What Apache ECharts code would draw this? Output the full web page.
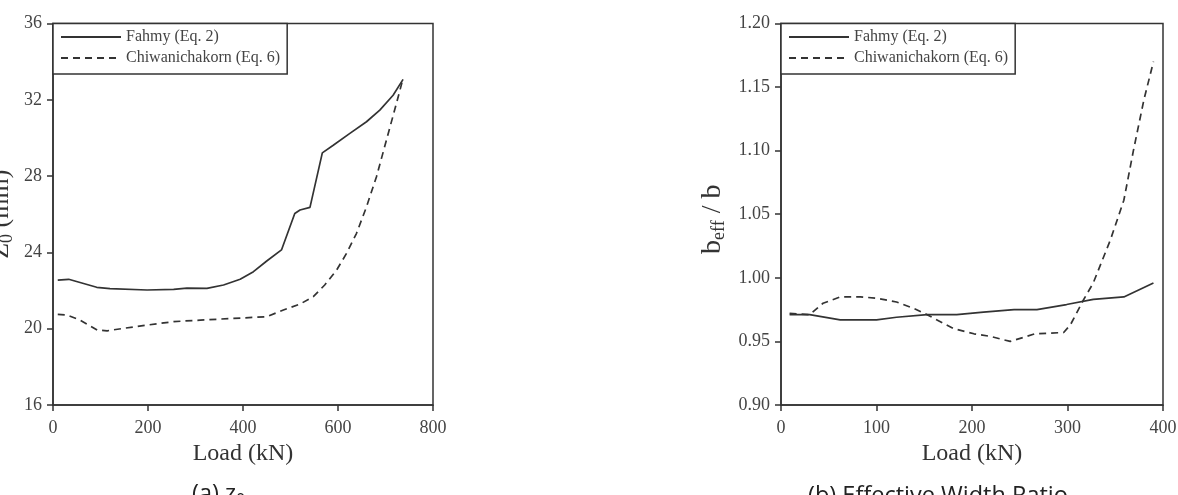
<!DOCTYPE html>
<html>
<head>
<meta charset="utf-8">
<script src="https://cdn.jsdelivr.net/npm/echarts@6/dist/echarts.min.js"></script>
<style>
html,body{margin:0;padding:0;background:#fff;}
#c{width:1178px;height:495px;}
</style>
</head>
<body>
<div id="c"></div>
<script>
// ---- Data: (a) z0 vs Load ----
const fahmyA_load = [10, 33, 92, 120, 198, 254, 282, 324, 359, 394, 422, 450, 481, 509, 520, 541, 567, 590, 625, 660, 688, 716, 737];
const fahmyA_z0   = [22.55, 22.59, 22.17, 22.10, 22.03, 22.06, 22.13, 22.11, 22.29, 22.59, 22.99, 23.55, 24.13, 26.04, 26.22, 26.36, 29.22, 29.62, 30.24, 30.85, 31.46, 32.24, 33.07];
const chiwA_load  = [10, 29, 57, 93, 114, 149, 198, 254, 310, 380, 450, 485, 520, 548, 572, 597, 618, 639, 660, 681, 702, 723, 737];
const chiwA_z0    = [20.75, 20.72, 20.45, 19.93, 19.89, 20.02, 20.19, 20.37, 20.45, 20.54, 20.63, 20.98, 21.29, 21.68, 22.29, 23.07, 23.95, 25.0, 26.39, 27.97, 29.89, 31.81, 33.12];

// ---- Data: (b) beff/b vs Load ----
const fahmyB_load  = [9, 30, 62, 100, 121, 153, 184, 212, 244, 268, 299, 327, 359, 390];
const fahmyB_ratio = [0.971, 0.971, 0.967, 0.967, 0.969, 0.971, 0.971, 0.973, 0.975, 0.975, 0.979, 0.983, 0.985, 0.996];
const chiwB_load   = [9, 30, 44, 62, 83, 100, 121, 139, 153, 181, 202, 219, 240, 266, 296, 303, 317, 327, 345, 359, 369, 380, 390];
const chiwB_ratio  = [0.972, 0.971, 0.980, 0.985, 0.985, 0.984, 0.981, 0.976, 0.971, 0.960, 0.956, 0.954, 0.950, 0.956, 0.957, 0.963, 0.983, 0.996, 1.030, 1.061, 1.100, 1.140, 1.170];

// ---- Labels ----
const seriesNames = ['Fahmy (Eq. 2)', 'Chiwanichakorn (Eq. 6)'];
const xTitle = 'Load (kN)';
const captionA = ['(a) z', '0'];
const captionB = '(b) Effective Width Ratio';

function pairs(xs, ys) { return xs.map((x, i) => [x, ys[i]]); }

const serif = 'Liberation Serif, Times New Roman, serif';
const axisColor = '#333';
const lineColor = '#333';
const dash = [7, 5];

function xAxis(gi, max, interval) {
  return {
    type: 'value', gridIndex: gi, min: 0, max: max, interval: interval,
    name: xTitle, nameLocation: 'middle', nameGap: 35,
    nameTextStyle: { fontFamily: serif, fontSize: 24, color: '#333' },
    axisLine: { show: true, onZero: false, lineStyle: { color: axisColor, width: 1.5 } },
    axisTick: { show: true, inside: false, length: 6, lineStyle: { color: axisColor, width: 1.5 } },
    axisLabel: { fontFamily: serif, fontSize: 18, color: '#444', margin: 14 },
    splitLine: { show: false }
  };
}
function yAxis(gi, min, max, interval, fmt, name, rich, gap, pad) {
  return {
    type: 'value', gridIndex: gi, min: min, max: max, interval: interval,
    name: name, nameLocation: 'middle', nameGap: gap,
    nameTextStyle: { fontFamily: serif, fontSize: 26, color: '#333', rich: rich, padding: pad },
    axisLine: { show: true, onZero: false, lineStyle: { color: axisColor, width: 1.5 } },
    axisTick: { show: true, inside: false, length: 6, lineStyle: { color: axisColor, width: 1.5 } },
    axisLabel: { fontFamily: serif, fontSize: 18, color: '#444', margin: 11, formatter: fmt },
    splitLine: { show: false }
  };
}
function legend(left) {
  return {
    left: left, top: 23.5, orient: 'vertical',
    data: seriesNames,
    itemWidth: 60, itemHeight: 14, itemGap: 5,
    padding: [5.5, 7, 8, 7],
    borderColor: '#333', borderWidth: 1.5, backgroundColor: '#fff',
    itemStyle: { color: 'rgba(0,0,0,0)', borderColor: 'rgba(0,0,0,0)', borderWidth: 0 },
    textStyle: { fontFamily: serif, fontSize: 16, color: '#444', lineHeight: 16 },
    selectedMode: false
  };
}
function line(name, xi, data, dashed) {
  return {
    type: 'line', name: name, xAxisIndex: xi, yAxisIndex: xi, data: data,
    symbol: 'none', smooth: false, animation: false,
    lineStyle: { color: lineColor, width: 1.7, type: dashed ? dash : 'solid' },
    itemStyle: { color: lineColor }
  };
}

const subRichA = {
  m: { fontFamily: serif, fontSize: 26, color: '#333', lineHeight: 30 },
  s: { fontFamily: serif, fontSize: 18, color: '#333', lineHeight: 18, verticalAlign: 'bottom' }
};
const subRichB = {
  m: { fontFamily: serif, fontSize: 28, color: '#333', lineHeight: 30 },
  s: { fontFamily: serif, fontSize: 18, color: '#333', lineHeight: 18, verticalAlign: 'bottom' }
};

const chart = echarts.init(document.getElementById('c'), null, { renderer: 'canvas' });
chart.setOption({
  backgroundColor: '#fff',
  animation: false,
  grid: [
    { left: 53, top: 23.5, width: 380, height: 381.5, show: true, borderColor: '#333', borderWidth: 1.5, containLabel: false, outerBoundsMode: 'none' },
    { left: 781, top: 23.5, width: 382, height: 381.5, show: true, borderColor: '#333', borderWidth: 1.5, containLabel: false, outerBoundsMode: 'none' }
  ],
  xAxis: [xAxis(0, 800, 200), xAxis(1, 400, 100)],
  yAxis: [
    yAxis(0, 16, 36, 4, v => String(v), '{m|Z}{s|0}{m| (mm)}', subRichA, 37, 0),
    yAxis(1, 0.9, 1.2, 0.05, v => v.toFixed(2), '{m|b}{s|eff}{m| / b}', subRichB, 53, [0, 10, 0, 0])
  ],
  legend: [legend(53), legend(781)],
  series: [
    line(seriesNames[0], 0, pairs(fahmyA_load, fahmyA_z0), false),
    line(seriesNames[1], 0, pairs(chiwA_load, chiwA_z0), true),
    line(seriesNames[0], 1, pairs(fahmyB_load, fahmyB_ratio), false),
    line(seriesNames[1], 1, pairs(chiwB_load, chiwB_ratio), true)
  ],
  graphic: [
    { type: 'text', left: 192, top: 482, style: {
        text: '{a|' + captionA[0] + '}{b|' + captionA[1] + '}',
        rich: { a: { fontFamily: 'Open Sans', fontSize: 23.5, fill: '#222', lineHeight: 28 },
                b: { fontFamily: 'Open Sans', fontSize: 16, fill: '#222', lineHeight: 16, verticalAlign: 'bottom' } } } },
    { type: 'text', left: 808, top: 482, style: {
        text: captionB, fontFamily: 'Open Sans', fontSize: 23.5, fill: '#222', lineHeight: 28 } }
  ]
});
</script>
</body>
</html>
